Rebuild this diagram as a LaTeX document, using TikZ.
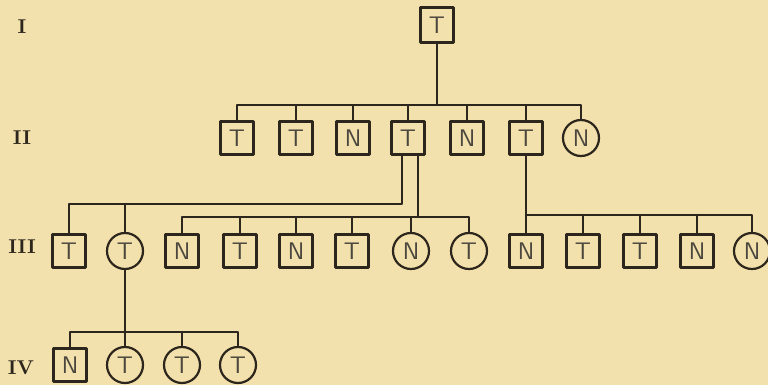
\documentclass[tikz,border=0pt]{standalone}
\definecolor{paper}{RGB}{242,225,172}
\definecolor{ink}{RGB}{45,38,28}
\begin{document}
\begin{tikzpicture}[x=0.5pt,y=-0.5pt,line cap=round,line join=round,
  sq/.style={draw=ink,line width=1.1pt,minimum size=16.5pt,inner sep=0pt,
    font=\sffamily\fontsize{12}{12}\selectfont,text=ink!85},
  ci/.style={sq,circle,minimum size=18pt},
  gen/.style={font=\rmfamily\bfseries\fontsize{10}{10}\selectfont,text=ink},
  link/.style={draw=ink,line width=1.1pt}]
  \useasboundingbox[fill=paper] (0,0) rectangle (768,385);
  % generation labels
  \node[gen] (gI) at (22,27) {I};
  \node[gen] (gII) at (22,138) {II};
  \node[gen] (gIII) at (22,247) {III};
  \node[gen] (gIV) at (21,368) {IV};
  % generation I
  \node[sq,minimum height=17.5pt] (a1) at (437,25) {T};
  % generation II
  \foreach \x/\s/\t [count=\i] in {237/sq/T,296/sq/T,353/sq/N,408/sq/T,
      467/sq/N,526/sq/T,581/ci/N}
    \node[\s] (b\i) at (\x,138) {\t};
  % generation III
  \foreach \x/\s/\t [count=\i] in {69/sq/T,125/ci/T,182/sq/N,240/sq/T,
      296/sq/N,352/sq/T,411/ci/N,469/ci/T,526/sq/N,583/sq/T,640/sq/T,
      697/sq/N,752/ci/N}
    \node[\s] (c\i) at (\x,251) {\t};
  % generation IV
  \foreach \x/\s/\t [count=\i] in {70/sq/N,125/ci/T,182/ci/T,238/ci/T}
    \node[\s] (d\i) at (\x,365) {\t};
  % sibship bars
  \coordinate (barb) at (0,105);
  \coordinate (barl) at (0,204);
  \coordinate (barm) at (0,217);
  \coordinate (barr) at (0,215);
  \coordinate (bard) at (0,332);
  % I -> II
  \draw[link] (a1.south) -- (a1.south |- barb);
  \draw[link] (b1.north) |- (b7.north |- barb) -- (b7.north);
  \foreach \i in {2,...,6}
    \draw[link] (b\i.north) -- (b\i.north |- barb);
  % II -> III
  \draw[link] ([xshift=-3pt]b4.south) |- (c1.north |- barl) -- (c1.north);
  \draw[link] (c2.north) -- (c2.north |- barl);
  \draw[link] ([xshift=5pt]b4.south) -- ([xshift=5pt]b4.south |- barm);
  \draw[link] (c3.north) |- (c8.north |- barm) -- (c8.north);
  \foreach \i in {4,...,7}
    \draw[link] (c\i.north) -- (c\i.north |- barm);
  \draw[link] (b6.south) -- (c9.north);
  \draw[link] (c9.north |- barr) -- (c13.north |- barr) -- (c13.north);
  \foreach \i in {10,11,12}
    \draw[link] (c\i.north) -- (c\i.north |- barr);
  % III -> IV
  \draw[link] (c2.south) -- (d2.north);
  \draw[link] (d1.north) |- (d4.north |- bard) -- (d4.north);
  \draw[link] (d3.north) -- (d3.north |- bard);
\end{tikzpicture}
\end{document}
